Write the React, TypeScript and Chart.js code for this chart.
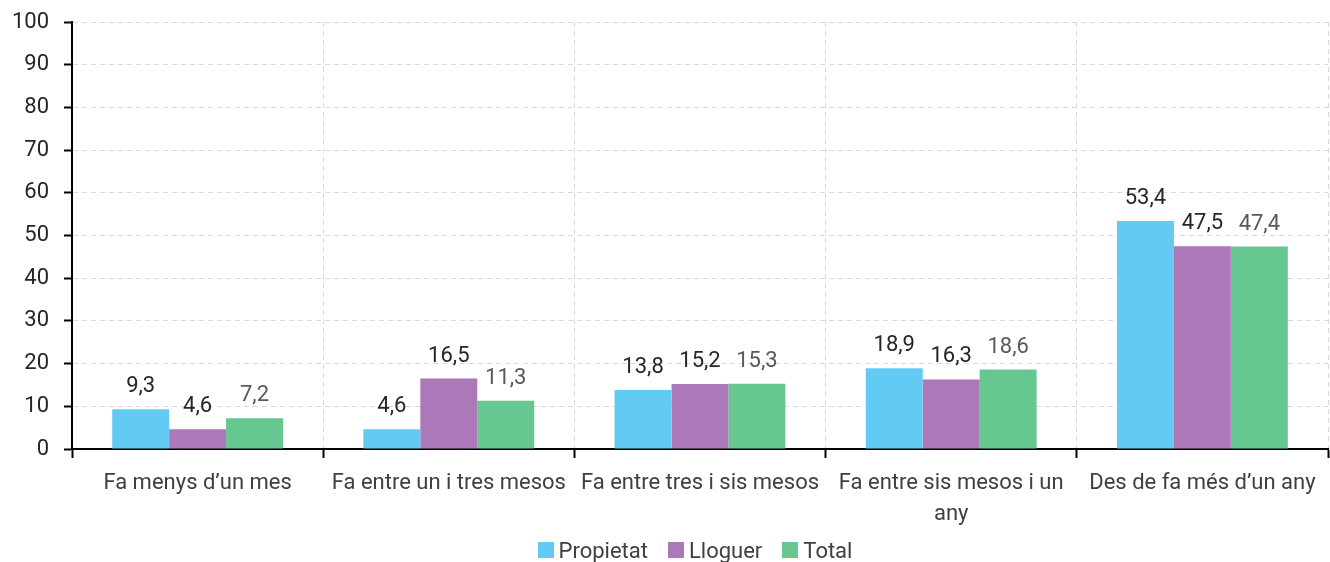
import React, { useEffect, useRef } from "react";
import { Chart, registerables } from "chart.js";

Chart.register(...registerables);

const categories: (string | string[])[] = [
  "Fa menys d’un mes",
  "Fa entre un i tres mesos",
  "Fa entre tres i sis mesos",
  ["Fa entre sis mesos i un", "any"],
  "Des de fa més d’un any",
];
const propietat = [9.3, 4.6, 13.8, 18.9, 53.4];
const lloguer = [4.6, 16.5, 15.2, 16.3, 47.5];
const total = [7.2, 11.3, 15.3, 18.6, 47.4];
const seriesNames = ["Propietat", "Lloguer", "Total"];
const seriesColors = ["#63CBF3", "#AC78B8", "#66C791"];
const labelColors = ["#262626", "#262626", "#595959"];

const FONT = "Roboto, 'Noto Sans', sans-serif";
const FS = 22;

const labelPlugin = {
  id: "barLabels",
  afterDatasetsDraw(chart: any) {
    const ctx = chart.ctx;
    ctx.save();
    ctx.font = `${FS}px ${FONT}`;
    ctx.textAlign = "center";
    ctx.textBaseline = "alphabetic";
    chart.data.datasets.forEach((ds: any, i: number) => {
      const meta = chart.getDatasetMeta(i);
      meta.data.forEach((el: any, j: number) => {
        const v = ds.data[j] as number;
        ctx.fillStyle = labelColors[i];
        ctx.fillText(v.toFixed(1).replace(".", ","), el.x, el.y - 17);
      });
    });
    ctx.restore();
  },
};

export default function App() {
  const ref = useRef<HTMLCanvasElement>(null);
  useEffect(() => {
    document.body.style.margin = "0";
    const chart = new Chart(ref.current!, {
      type: "bar",
      data: {
        labels: categories,
        datasets: [propietat, lloguer, total].map((d, i) => ({
          label: seriesNames[i],
          data: d,
          backgroundColor: seriesColors[i],
          categoryPercentage: 0.68,
          barPercentage: 1.0,
        })),
      },
      options: {
        animation: false,
        responsive: false,
        layout: { padding: { top: 22, right: 2, left: 0, bottom: 33 } },
        plugins: {
          legend: { display: false },
          tooltip: { enabled: false },
        },
        scales: {
          x: {
            grid: {
              color: "#d9d9d9",
              tickColor: "#000",
              tickLength: 9,
              tickWidth: 2,
              offset: true,
            },
            border: { color: "#000", width: 2, dash: [5, 4] },
            ticks: {
              color: "#404040",
              font: { family: FONT, size: FS, lineHeight: 1.4 },
              maxRotation: 0,
              autoSkip: false,
              padding: 10,
            },
            afterFit: (s: any) => {
              s.height = 80;
            },
          },
          y: {
            min: 0,
            max: 100,
            ticks: {
              stepSize: 10,
              color: "#262626",
              font: { family: FONT, size: FS },
              padding: 15,
            },
            grid: {
              color: "#d9d9d9",
              tickColor: "#000",
              tickLength: 8,
              tickWidth: 2,
            },
            border: { color: "#000", width: 2, dash: [5, 4] },
            afterFit: (s: any) => {
              s.width = 72;
              s.paddingTop = 0;
              s.paddingBottom = 0;
            },
          },
        },
      },
      plugins: [labelPlugin],
    });
    return () => chart.destroy();
  }, []);
  return (
    <div style={{ position: "relative", width: 1330, height: 562 }}>
      <canvas ref={ref} width={1330} height={562} style={{ display: "block" }} />
      <div
        style={{
          position: "absolute",
          left: 30,
          top: 537,
          width: 1330,
          height: 26,
          display: "flex",
          justifyContent: "center",
          alignItems: "center",
          gap: 20,
          fontFamily: FONT,
          fontSize: FS,
          color: "#404040",
        }}
      >
        {seriesNames.map((n, i) => (
          <div key={n} style={{ display: "flex", alignItems: "center", gap: 5 }}>
            <span
              style={{
                display: "inline-block",
                width: 16,
                height: 16,
                background: seriesColors[i],
              }}
            />
            <span>{n}</span>
          </div>
        ))}
      </div>
    </div>
  );
}
